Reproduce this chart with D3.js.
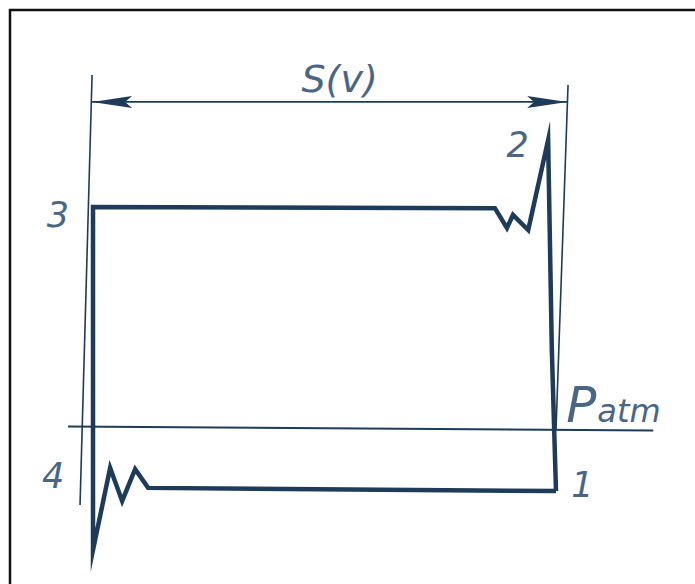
<!DOCTYPE html>
<html>
<head>
<meta charset="utf-8">
<script src="https://cdn.jsdelivr.net/npm/d3@7"></script>
<style>
  body { margin:0; background:#fff; }
  .lbl { font-family:"DejaVu Sans", sans-serif; font-style:oblique; font-weight:200; fill:#4a6683; }
</style>
</head>
<body>
<div id="chart"></div>
<script>
// stroke fraction s (0 = point 3/4 side, 1 = point 1/2 side), pressure p (0 = suction, 1 = discharge)
var cycleS = [1.0, 0.991, 0.983, 0.940, 0.907, 0.894, 0.868, 0.0, 0.0, 0.037, 0.063, 0.091, 0.119, 1.0];
var cycleP = [0.0, 0.496, 1.236, 0.919, 0.972, 0.926, 0.996, 1.0, -0.208, 0.081, -0.035, 0.077, 0.011, 0.0];
var pAtm = 0.213;
var atmRange = [-0.054, 1.21];
var strokeDim = [-0.002, 1.024];
var pDim = 1.37;
var extLeft = [[-0.002, 1.465], [-0.028, -0.049]];
var extRight = [[1.026, 1.430], [1.0, 0.215]];
var pointLabels = ["1", "2", "3", "4"];

var viewboxwidth = 695, viewboxheight = 584;
var ink = "#1e3b5a";

var svg = d3.select("#chart").append("svg")
    .attr("width", viewboxwidth)
    .attr("height", viewboxheight);

// frame
svg.append("rect")
    .attr("x", 10).attr("y", 10)
    .attr("width", 720).attr("height", 620)
    .attr("fill", "none")
    .attr("stroke", "#111")
    .attr("stroke-width", 2.5);

var x = d3.scaleLinear().domain([0, 1]).range([93, 556]);
var y = d3.scaleLinear().domain([0, 1]).range([491, 207]);

var line = d3.line().x(function(d){ return x(d[0]); }).y(function(d){ return y(d[1]); });

// thin extension lines
[extLeft, extRight].forEach(function(e){
  svg.append("path").attr("d", line(e))
    .attr("stroke", ink).attr("stroke-width", 1.6).attr("fill", "none");
});

// atmospheric pressure line
svg.append("path")
    .attr("d", line([[atmRange[0], pAtm + 0.014], [atmRange[1], pAtm]]))
    .attr("stroke", ink).attr("stroke-width", 2).attr("fill", "none");

// dimension line with arrows
var yd = y(pDim), x0 = x(strokeDim[0]), x1 = x(strokeDim[1]);
svg.append("line")
    .attr("x1", x0).attr("x2", x1).attr("y1", yd).attr("y2", yd)
    .attr("stroke", ink).attr("stroke-width", 1.6);
function arrow(tip, dir){
  var b = tip + dir * 40;
  return "M" + tip + "," + yd + "L" + b + "," + (yd - 6) + "L" + (b - dir * 7) + "," + yd +
         "L" + b + "," + (yd + 6) + "Z";
}
svg.append("path").attr("d", arrow(x0, 1)).attr("fill", ink);
svg.append("path").attr("d", arrow(x1, -1)).attr("fill", ink);

// indicator cycle
var cycle = cycleS.map(function(s, i){ return [s, cycleP[i]]; });
svg.append("path")
    .attr("d", line(cycle))
    .attr("fill", "none")
    .attr("stroke", ink)
    .attr("stroke-width", 4.5)
    .attr("stroke-linejoin", "miter")
    .attr("stroke-miterlimit", 10);

// labels
svg.append("text").attr("class", "lbl")
    .attr("x", (x0 + x1) / 2 + 10).attr("y", yd - 10)
    .attr("text-anchor", "middle")
    .attr("font-size", 38)
    .text("S(v)");

var labelPos = [[1.033, -0.02], [0.893, 1.175], [-0.1, 0.93], [-0.11, 0.01]];
pointLabels.forEach(function(t, i){
  svg.append("text").attr("class", "lbl")
    .attr("x", x(labelPos[i][0])).attr("y", y(labelPos[i][1]))
    .attr("font-size", 35)
    .text(t);
});

var pl = svg.append("text").attr("class", "lbl")
    .attr("x", x(1.022)).attr("y", y(pAtm) - 9);
pl.append("tspan").attr("font-size", 50).text("P");
pl.append("tspan").attr("font-size", 32).attr("dx", 1).text("atm");
</script>
</body>
</html>
